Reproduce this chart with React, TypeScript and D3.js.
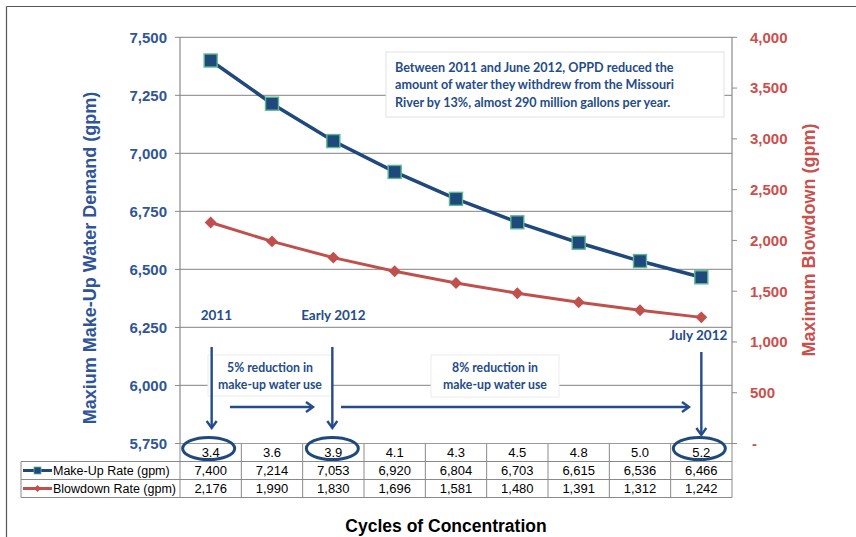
import React from "react";
import * as d3 from "d3";

const categories = ["3.4", "3.6", "3.9", "4.1", "4.3", "4.5", "4.8", "5.0", "5.2"];
const makeUpRate = [7400, 7214, 7053, 6920, 6804, 6703, 6615, 6536, 6466];
const blowdownRate = [2176, 1990, 1830, 1696, 1581, 1480, 1391, 1312, 1242];
const leftTicks = [5750, 6000, 6250, 6500, 6750, 7000, 7250, 7500];
const rightTicks = [0, 500, 1000, 1500, 2000, 2500, 3000, 3500, 4000];
const seriesNames = ["Make-Up Rate (gpm)", "Blowdown Rate (gpm)"];
const noteLines = [
  "Between 2011 and June 2012, OPPD reduced the",
  "amount of water they withdrew from the Missouri",
  "River by 13%, almost 290 million gallons per year.",
];

const W = 856;
const H = 537;
const PL = 180;
const PR = 732;
const PT = 37.3;
const PB = 443.5;
const ROW = 18;

const NAVY = "#1F497D";
const BLUE_TXT = "#2F5597";
const ANN = "#254C8A";
const RED = "#C0504D";
const RED_TXT = "#C9504D";
const GRID = "#9A9A9A";
const AXIS = "#8A8A8A";
const ARIAL = "Liberation Sans, Arial, sans-serif";
const CAL = "Lato, 'Open Sans', sans-serif";

export default function App() {
  const x = d3.scaleBand<string>().domain(categories).range([PL, PR]).padding(0);
  const cx = (c: string) => (x(c) as number) + x.bandwidth() / 2;
  const yL = d3.scaleLinear().domain([5750, 7500]).range([PB, PT]);
  const yR = d3.scaleLinear().domain([0, 4000]).range([PB, PT]);
  const fmt = d3.format(",");

  const lineL = d3
    .line<number>()
    .x((_, i) => cx(categories[i]))
    .y((d) => yL(d));
  const lineR = d3
    .line<number>()
    .x((_, i) => cx(categories[i]))
    .y((d) => yR(d));
  const diamond = d3.symbol().type(d3.symbolDiamond2).size(90)();
  const diamondSmall = d3.symbol().type(d3.symbolDiamond2).size(30)();

  const t0 = PB;
  const t1 = PB + ROW;
  const t2 = PB + ROW * 2;
  const t3 = PB + ROW * 3;
  const LEG = 21;

  const x34 = cx("3.4");
  const x39 = cx("3.9");
  const x52 = cx("5.2");

  const boxW = 124;
  const box1x = (x34 + x39) / 2 - boxW / 2 - 2;
  const box2x = 431;

  return (
    <svg
      width={W}
      height={H}
      viewBox={`0 0 ${W} ${H}`}
      style={{ position: "absolute", left: 0, top: 0, background: "#fff" }}
    >
      <defs>
        <marker
          id="chev"
          markerUnits="userSpaceOnUse"
          markerWidth="14"
          markerHeight="14"
          refX="9"
          refY="6"
          orient="auto"
          viewBox="0 0 14 12"
        >
          <path d="M2,1 L9,6 L2,11" fill="none" stroke={ANN} strokeWidth="2.4" />
        </marker>
      </defs>
      <rect x={0} y={0} width={W} height={H} fill="#fff" />
      {/* outer frame */}
      <line x1={6.5} y1={6.5} x2={W} y2={6.5} stroke="#555" strokeWidth={1.2} />
      <line x1={6.5} y1={6.5} x2={6.5} y2={H} stroke="#555" strokeWidth={1.2} />

      {/* gridlines */}
      {leftTicks.map((t) => (
        <line key={"g" + t} x1={PL} x2={PR} y1={yL(t)} y2={yL(t)} stroke={GRID} strokeWidth={1.2} />
      ))}
      {/* axes */}
      <line x1={PL} x2={PL} y1={PT} y2={PB} stroke={AXIS} strokeWidth={1.2} />
      <line x1={PR} x2={PR} y1={PT} y2={PB} stroke={AXIS} strokeWidth={1.2} />
      {leftTicks.map((t) => (
        <g key={"lt" + t}>
          <line x1={PL - 5} x2={PL} y1={yL(t)} y2={yL(t)} stroke={AXIS} />
          <text
            x={167}
            y={yL(t)}
            dy="0.36em"
            textAnchor="end"
            fontFamily={ARIAL}
            fontWeight="bold"
            fontSize={15}
            fill={BLUE_TXT}
          >
            {fmt(t)}
          </text>
        </g>
      ))}
      {rightTicks.map((t) => (
        <g key={"rt" + t}>
          <line x1={PR} x2={PR + 5} y1={yR(t)} y2={yR(t)} stroke={AXIS} />
          <text
            x={t === 0 ? 752 : 750}
            y={yR(t)}
            dy="0.36em"
            textAnchor="start"
            fontFamily={ARIAL}
            fontWeight="bold"
            fontSize={15}
            fill={RED_TXT}
          >
            {t === 0 ? "-" : fmt(t)}
          </text>
        </g>
      ))}

      {/* axis titles */}
      <text
        transform={`translate(96,258) rotate(-90)`}
        textAnchor="middle"
        fontFamily={ARIAL}
        fontWeight="bold"
        fontSize={18}
        fill={BLUE_TXT}
      >
        Maxium Make-Up Water Demand (gpm)
      </text>
      <text
        transform={`translate(815,240) rotate(-90)`}
        textAnchor="middle"
        fontFamily={ARIAL}
        fontWeight="bold"
        fontSize={18}
        fill={RED_TXT}
      >
        Maximum Blowdown (gpm)
      </text>
      <text
        x={446}
        y={532}
        textAnchor="middle"
        fontFamily={ARIAL}
        fontWeight="bold"
        fontSize={17.5}
        fill="#000"
      >
        Cycles of Concentration
      </text>

      {/* note box */}
      <rect x={386} y={52} width={338} height={65} fill="#fff" stroke="#E2E2E2" />
      {noteLines.map((l, i) => (
        <text
          key={"n" + i}
          x={395}
          y={71.5 + i * 17.5}
          fontFamily={CAL}
          fontWeight="bold"
          fontSize={12.6}
          fill={ANN}
        >
          {l}
        </text>
      ))}

      {/* series */}
      <path d={lineR(blowdownRate) || ""} fill="none" stroke={RED} strokeWidth={3} />
      {blowdownRate.map((v, i) => (
        <path key={"d" + i} d={diamond || ""} transform={`translate(${cx(categories[i])},${yR(v)})`} fill={RED} />
      ))}
      <path d={lineL(makeUpRate) || ""} fill="none" stroke={NAVY} strokeWidth={3.5} />
      {makeUpRate.map((v, i) => (
        <rect
          key={"s" + i}
          x={cx(categories[i]) - 6.5}
          y={yL(v) - 6.5}
          width={13}
          height={13}
          fill={NAVY}
          stroke="#5DB88E"
          strokeWidth={1.4}
        />
      ))}

      {/* period labels */}
      <text x={x34 - 10} y={319.5} fontFamily={CAL} fontWeight="bold" fontSize={13.5} fill={ANN}>
        2011
      </text>
      <text x={x39 + 0} y={320} textAnchor="middle" fontFamily={CAL} fontWeight="bold" fontSize={13.5} fill={ANN}>
        Early 2012
      </text>
      <text x={x52 + 26} y={340} textAnchor="end" fontFamily={CAL} fontWeight="bold" fontSize={13.5} fill={ANN}>
        July 2012
      </text>

      {/* reduction boxes */}
      <rect x={box1x} y={355} width={boxW} height={41} fill="#fff" stroke="#ECECEC" />
      <text x={box1x + boxW / 2} y={372} textAnchor="middle" fontFamily={CAL} fontWeight="bold" fontSize={12.3} fill={ANN}>
        5% reduction in
      </text>
      <text x={box1x + boxW / 2} y={389} textAnchor="middle" fontFamily={CAL} fontWeight="bold" fontSize={12.3} fill={ANN}>
        make-up water use
      </text>
      <rect x={box2x} y={355} width={128} height={42} fill="#fff" stroke="#ECECEC" />
      <text x={box2x + 64} y={372} textAnchor="middle" fontFamily={CAL} fontWeight="bold" fontSize={12.3} fill={ANN}>
        8% reduction in
      </text>
      <text x={box2x + 64} y={389} textAnchor="middle" fontFamily={CAL} fontWeight="bold" fontSize={12.3} fill={ANN}>
        make-up water use
      </text>

      {/* arrows */}
      <line x1={x34 + 1} x2={x34 + 1} y1={347} y2={428} stroke={ANN} strokeWidth={2.4} markerEnd="url(#chev)" />
      <line x1={x39 - 1} x2={x39 - 1} y1={347} y2={428} stroke={ANN} strokeWidth={2.4} markerEnd="url(#chev)" />
      <line x1={x52} x2={x52} y1={352} y2={435} stroke={ANN} strokeWidth={2.4} markerEnd="url(#chev)" />
      <line x1={230} x2={313} y1={407} y2={407} stroke={ANN} strokeWidth={2.4} markerEnd="url(#chev)" />
      <line x1={341} x2={689} y1={407} y2={407} stroke={ANN} strokeWidth={2.4} markerEnd="url(#chev)" />

      {/* data table */}
      <g fontFamily={ARIAL} fontSize={13} fill="#000">
        <line x1={PL} x2={PR} y1={t1} y2={t1} stroke={AXIS} />
        <line x1={LEG} x2={PR} y1={t1} y2={t1} stroke={AXIS} />
        <line x1={LEG} x2={PR} y1={t2} y2={t2} stroke={AXIS} />
        <line x1={LEG} x2={PR} y1={t3} y2={t3} stroke={AXIS} />
        <line x1={LEG} x2={LEG} y1={t1} y2={t3} stroke={AXIS} />
        {categories.map((c, i) => (
          <line
            key={"v" + i}
            x1={(x(c) as number) + x.bandwidth()}
            x2={(x(c) as number) + x.bandwidth()}
            y1={t0}
            y2={t3}
            stroke={AXIS}
          />
        ))}
        <line x1={PL} x2={PL} y1={t0} y2={t3} stroke={AXIS} />
        {categories.map((c) => (
          <text key={"c" + c} x={cx(c)} y={t0 + 13.5} textAnchor="middle">
            {c}
          </text>
        ))}
        {makeUpRate.map((v, i) => (
          <text key={"m" + i} x={cx(categories[i])} y={t1 + 13.5} textAnchor="middle">
            {fmt(v)}
          </text>
        ))}
        {blowdownRate.map((v, i) => (
          <text key={"b" + i} x={cx(categories[i])} y={t2 + 13.5} textAnchor="middle">
            {fmt(v)}
          </text>
        ))}
        {/* legend keys */}
        <line x1={23} x2={52} y1={t1 + 9} y2={t1 + 9} stroke={NAVY} strokeWidth={3} />
        <rect x={34} y={t1 + 5.5} width={7} height={7} fill={NAVY} stroke="#5DB88E" strokeWidth={0.8} />
        <text x={53} y={t1 + 13.5} fontSize={12.5}>{seriesNames[0]}</text>
        <line x1={23} x2={52} y1={t2 + 9} y2={t2 + 9} stroke={RED} strokeWidth={3} />
        <path d={diamondSmall || ""} transform={`translate(37.5,${t2 + 9})`} fill={RED} />
        <text x={53} y={t2 + 13.5} fontSize={12.5}>{seriesNames[1]}</text>
      </g>

      {/* highlight ellipses */}
      {[x34 - 2, x39 - 1, x52 - 2].map((ex, i) => (
        <ellipse key={"e" + i} cx={ex} cy={t0 + 5} rx={26} ry={11} fill="none" stroke={NAVY} strokeWidth={3} />
      ))}
    </svg>
  );
}
